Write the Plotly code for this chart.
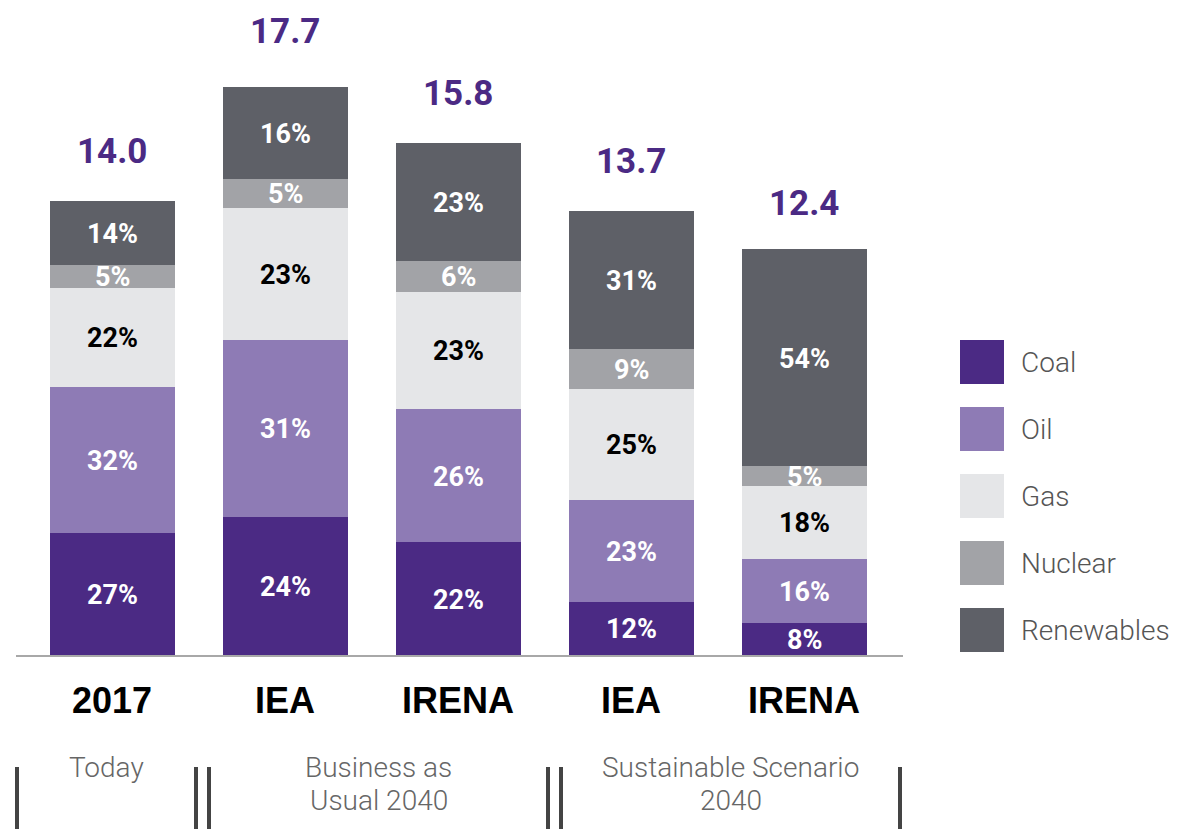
import plotly.graph_objects as go

# ---- data ----
categories = ["2017", "IEA", "IRENA", "IEA", "IRENA"]
totals = [14.0, 17.7, 15.8, 13.7, 12.4]
series_names = ["Coal", "Oil", "Gas", "Nuclear", "Renewables"]
coal = [27, 24, 22, 12, 8]
oil = [32, 31, 26, 23, 16]
gas = [22, 23, 23, 25, 18]
nuclear = [5, 5, 6, 9, 5]
renewables = [14, 16, 23, 31, 54]
group_labels = ["Today", "Business as<br>Usual 2040", "Sustainable Scenario<br>2040"]

# ---- style ----
colors = ["#4B2A84", "#8E7BB5", "#E5E6E8", "#A2A3A7", "#5E6067"]
label_colors = ["white", "white", "black", "white", "white"]
W, H = 1180, 829
OFF = 8  # page body margin offset
BASE_PX = 655


def px_x(px):
    return (px - OFF) / W


def px_y(py):
    return 1 - (py - OFF) / H


series = [coal, oil, gas, nuclear, renewables]
xpos = list(range(len(categories)))

fig = go.Figure()
for name, pcts, col in zip(series_names, series, colors):
    vals = [t * p / 100 for t, p in zip(totals, pcts)]
    fig.add_trace(go.Bar(x=xpos, y=vals, name=name, marker=dict(color=col, line=dict(width=0)),
                         width=0.7225, showlegend=False, hoverinfo="skip"))

ann = []
for i in xpos:
    cum = 0
    for s, pcts in enumerate(series):
        v = totals[i] * pcts[i] / 100
        ann.append(dict(x=i, y=cum + v / 2, xref="x", yref="y", text=f"<b>{pcts[i]}%</b>",
                        showarrow=False, font=dict(family="Roboto, Arial", size=27, color=label_colors[s]),
                        yshift=-1))
        cum += v
    ann.append(dict(x=i, y=totals[i], xref="x", yref="y", text=f"<b>{totals[i]:.1f}</b>",
                    showarrow=False, yshift=50, yanchor="middle",
                    font=dict(family="Roboto, Arial", size=35, color="#4B2A84")))
    ann.append(dict(x=i, y=px_y(700), xref="x", yref="paper", text=f"<b>{categories[i]}</b>",
                    showarrow=False, yanchor="middle",
                    font=dict(family="Liberation Sans, Arial", size=36, color="black")))

# bracket separators
brackets = [17, 196, 209, 548, 561, 900]
shapes = []
for px in brackets:
    shapes.append(dict(type="line", xref="paper", yref="paper", x0=px_x(px), x1=px_x(px),
                       y0=px_y(767), y1=-0.02, line=dict(color="#444444", width=4)))

# group labels centered between bracket pairs (one annotation per line)
for g, lbl in enumerate(group_labels):
    xc = (brackets[2 * g] + brackets[2 * g + 1]) / 2
    for j, line in enumerate(lbl.split("<br>")):
        ann.append(dict(x=px_x(xc), y=px_y(767 + 33 * j), xref="paper", yref="paper", text=line,
                        showarrow=False, xanchor="center", yanchor="middle",
                        font=dict(family="Roboto, Arial", size=28, color="#666666", weight=300)))

# legend
for k, (name, col) in enumerate(zip(series_names, colors)):
    top = 340 + 67 * k
    shapes.append(dict(type="rect", xref="paper", yref="paper", x0=px_x(960), x1=px_x(1004),
                       y0=px_y(top + 44), y1=px_y(top), fillcolor=col, line=dict(width=0)))
    ann.append(dict(x=px_x(1019), y=px_y(top + 22), xref="paper", yref="paper", text=name,
                    showarrow=False, xanchor="left", yanchor="middle",
                    font=dict(family="Roboto, Arial", size=28, color="#555555", weight=300)))

ppu = 32.4
ymax = (BASE_PX - OFF) / ppu
fig.update_layout(
    width=W, height=H, barmode="stack", bargap=0,
    margin=dict(l=0, r=0, t=0, b=0),
    paper_bgcolor="white", plot_bgcolor="white",
    xaxis=dict(domain=[px_x(15.6), px_x(903)], range=[-0.56, 4.57], showticklabels=False, ticks="",
               showgrid=False, zeroline=False, showline=True, linecolor="#A8A8A8", linewidth=2),
    yaxis=dict(domain=[px_y(BASE_PX), 1], range=[0, ymax], visible=False, showgrid=False),
    annotations=ann, shapes=shapes, showlegend=False,
)
fig.write_html("out.html")
